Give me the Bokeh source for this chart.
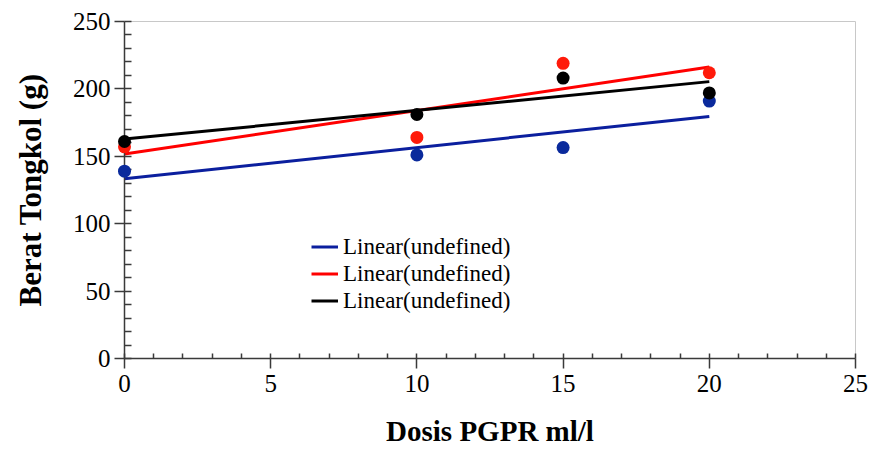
import numpy as np
from bokeh.plotting import figure
from bokeh.models import Legend, LegendItem, Range1d, SingleIntervalTicker
from bokeh.embed import file_html
from bokeh.resources import INLINE

# ---- data ----
dosis = [0, 10, 15, 20]
seri_biru = [139, 151, 156.5, 191]
seri_merah = [157, 164, 219, 212]
seri_hitam = [161, 181, 208, 197]
legend_labels = ["Linear(undefined)", "Linear(undefined)", "Linear(undefined)"]
x_label = "Dosis PGPR ml/l"
y_label = "Berat Tongkol (g)"

FONT = "Liberation Serif"

p = figure(width=874, height=450, output_backend="svg", toolbar_location=None,
           x_range=Range1d(0, 25), y_range=Range1d(0, 250),
           min_border_left=124, min_border_right=19, min_border_top=21, min_border_bottom=92)
p.xgrid.visible = False
p.ygrid.visible = False
p.outline_line_color = "#c8c8c8"
p.outline_line_width = 1
p.background_fill_color = "white"
p.border_fill_color = "white"

series = [(seri_biru, "#0b1f9e", "#0a2a9c"), (seri_merah, "#ff0000", "#ff1a0a"), (seri_hitam, "#000000", "#000000")]

items = []
xs_fit = [min(dosis), max(dosis)]
for (ys, lc, mc), lab in zip(series, legend_labels):
    k, b = np.polyfit(dosis, ys, 1)
    r = p.line(xs_fit, [k * xs_fit[0] + b, k * xs_fit[1] + b], line_color=lc, line_width=3)
    items.append(LegendItem(label=lab, renderers=[r]))

for ys, lc, mc in series:
    p.scatter(dosis, ys, size=13, fill_color=mc, line_color=mc, line_width=0, level="overlay")

for ax in (p.xaxis[0], p.yaxis[0]):
    ax.axis_line_color = "#3a3a3a"
    ax.axis_line_width = 1.5
    ax.major_tick_line_color = "#3a3a3a"
    ax.minor_tick_line_color = "#3a3a3a"
    ax.major_tick_line_width = 1.5
    ax.minor_tick_line_width = 1.5
    ax.major_tick_in = 0
    ax.major_tick_out = 10
    ax.minor_tick_out = 0
    ax.major_label_text_font = FONT
    ax.major_label_text_font_size = "25px"
    ax.major_label_text_color = "black"
    ax.axis_label_text_font = FONT
    ax.axis_label_text_font_style = "bold"
    ax.axis_label_text_color = "black"

p.xaxis[0].axis_label_text_font_size = "29px"
p.yaxis[0].axis_label_text_font_size = "31px"
p.xaxis[0].ticker = SingleIntervalTicker(interval=5, num_minor_ticks=5)
p.yaxis[0].ticker = SingleIntervalTicker(interval=50, num_minor_ticks=5)
p.xaxis[0].minor_tick_in = 5
p.yaxis[0].minor_tick_in = 7
p.xaxis[0].axis_label = x_label
p.yaxis[0].axis_label = y_label
p.xaxis[0].major_label_standoff = 6
p.yaxis[0].major_label_standoff = 4
p.xaxis[0].axis_label_standoff = 20
p.yaxis[0].axis_label_standoff = 22

legend = Legend(items=items, location=(187, 44), padding=0, margin=0, spacing=0,
                glyph_width=27, glyph_height=27, label_height=27, label_standoff=5,
                label_text_font=FONT, label_text_font_size="23px", label_text_color="black",
                background_fill_alpha=0, border_line_color=None)
p.add_layout(legend)

open("out.html", "w").write(file_html(p, INLINE))
